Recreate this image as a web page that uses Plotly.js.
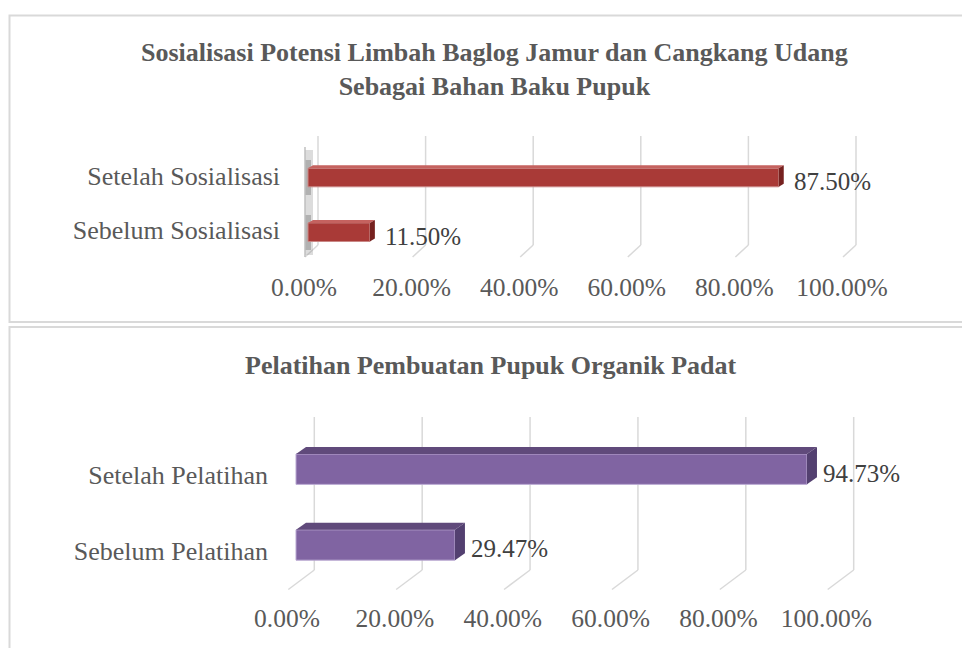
<!DOCTYPE html>
<html>
<head>
<meta charset="utf-8">
<script src="https://cdn.plot.ly/plotly-3.0.1.min.js"></script>
<style>html,body{margin:0;padding:0;background:#fff;}#chart{width:962px;height:648px;}</style>
</head>
<body>
<div id="chart"></div>
<script>
// ---------- data ----------
const title1 = 'Sosialisasi Potensi Limbah Baglog Jamur dan Cangkang Udang<br>Sebagai Bahan Baku Pupuk';
const categories1 = ['Sebelum Sosialisasi', 'Setelah Sosialisasi'];
const values1 = [11.50, 87.50];

const title2 = 'Pelatihan Pembuatan Pupuk Organik Padat';
const categories2 = ['Sebelum Pelatihan', 'Setelah Pelatihan'];
const values2 = [29.47, 94.73];

const tickValues = [0, 20, 40, 60, 80, 100];
const tickLabels = ['0.00%', '20.00%', '40.00%', '60.00%', '80.00%', '100.00%'];

// ---------- layout helpers ----------
const W = 962, H = 648;
const FONT = '"Liberation Serif", "Times New Roman", serif';
const XR = [-5, 105];

function xDomain(p0, p100) {
  const s = (p100 - p0) / 100;
  return [(p0 + XR[0] * s) / W, (p0 + XR[1] * s) / W];
}
function yDomain(cTop, cBot) {
  const s = cBot - cTop;
  return [1 - (cBot + s / 2) / H, 1 - (cTop - s / 2) / H];
}
function pxPerX(dom) { return (dom[1] - dom[0]) * W / (XR[1] - XR[0]); }
function pxPerY(dom) { return (dom[1] - dom[0]) * H / 2; }
const fy = p => 1 - p / H;

const P1 = { xd: xDomain(308, 846), yd: yDomain(177.5, 232.2), bw: 0.34,
  front: '#a93a37', top: '#c5625f', side: '#76211f', line: '#c98886',
  dx: 5, dy: 3, back: 10, frontOff: -3, gTop: 136, gMid: 245, gBot: 257 };
const P2 = { xd: xDomain(296, 835.4), yd: yDomain(469.2, 545), bw: 0.40,
  front: '#8064a2', top: '#604a7b', side: '#534070', line: '#b9a8d2',
  dx: 10, dy: 7, back: 18.3, frontOff: -7.7, gTop: 417, gMid: 570, gBot: 589.5 };

const shapes = [];
const annotations = [];

// panel borders
shapes.push({ type: 'rect', xref: 'paper', yref: 'paper', x0: 9.5 / W, x1: 1.05, y0: fy(15.5), y1: fy(322),
  line: { color: '#d9d9d9', width: 2 }, fillcolor: 'rgba(0,0,0,0)', layer: 'below' });
shapes.push({ type: 'rect', xref: 'paper', yref: 'paper', x0: 9.5 / W, x1: 1.05, y0: fy(327), y1: -0.05,
  line: { color: '#d9d9d9', width: 2 }, fillcolor: 'rgba(0,0,0,0)', layer: 'below' });

function addPanel(P, xref, yref, values) {
  const ux = pxPerX(P.xd), uy = pxPerY(P.yd);
  // 3D-style gridlines (back wall vertical + floor slant)
  tickValues.forEach(v => {
    const xb = v + P.back / ux, xf = v + P.frontOff / ux;
    shapes.push({ type: 'line', xref: xref, yref: 'paper', x0: xb, x1: xb, y0: fy(P.gTop), y1: fy(P.gMid),
      line: { color: '#d9d9d9', width: 1.5 }, layer: 'below' });
    shapes.push({ type: 'line', xref: xref, yref: 'paper', x0: xb, x1: xf, y0: fy(P.gMid), y1: fy(P.gBot),
      line: { color: '#d9d9d9', width: 1.5 }, layer: 'below' });
  });
  // bar top & side faces
  const dxU = P.dx / ux, dyU = P.dy / uy, hw = P.bw / 2;
  values.forEach((v, i) => {
    const yT = i + hw, yB = i - hw;
    shapes.push({ type: 'path', xref: xref, yref: yref, layer: 'above', line: { width: 0 }, fillcolor: P.top,
      path: `M0,${yT} L${dxU},${yT + dyU} L${v + dxU},${yT + dyU} L${v},${yT} Z` });
    shapes.push({ type: 'path', xref: xref, yref: yref, layer: 'above', line: { width: 0 }, fillcolor: P.side,
      path: `M${v},${yT} L${v + dxU},${yT + dyU} L${v + dxU},${yB + dyU} L${v},${yB} Z` });
  });
}
addPanel(P1, 'x', 'y', values1);
addPanel(P2, 'x2', 'y2', values2);

// side wall of panel 1
(function () {
  const ux = pxPerX(P1.xd);
  const xw = -3 / ux;
  shapes.push({ type: 'rect', xref: 'x', yref: 'paper', x0: xw, x1: 5 / ux, y0: fy(150), y1: fy(255),
    fillcolor: '#8c8c8c', opacity: 0.3, line: { width: 0 }, layer: 'below' });
  shapes.push({ type: 'rect', xref: 'x', yref: 'paper', x0: xw, x1: 3 / ux, y0: fy(160), y1: fy(195),
    fillcolor: '#606060', opacity: 0.35, line: { width: 0 }, layer: 'below' });
  shapes.push({ type: 'rect', xref: 'x', yref: 'paper', x0: xw, x1: 3 / ux, y0: fy(215), y1: fy(250),
    fillcolor: '#606060', opacity: 0.35, line: { width: 0 }, layer: 'below' });
  shapes.push({ type: 'line', xref: 'x', yref: 'paper', x0: xw, x1: xw, y0: fy(147), y1: fy(257),
    line: { color: '#bfbfbf', width: 1.5 }, layer: 'below' });
})();

// titles
annotations.push({ xref: 'paper', yref: 'paper', x: 494 / W, y: fy(69), xanchor: 'center', yanchor: 'middle',
  text: '<b>' + title1 + '</b>', showarrow: false, font: { family: FONT, size: 26, color: '#595959' } });
annotations.push({ xref: 'paper', yref: 'paper', x: 491 / W, y: fy(366), xanchor: 'center', yanchor: 'middle',
  text: '<b>' + title2 + '</b>', showarrow: false, font: { family: FONT, size: 26, color: '#595959' } });

// data labels
function addLabels(values, cats, xref, yref, xs, ys) {
  values.forEach((v, i) => {
    annotations.push({ xref: xref, yref: yref, x: v, y: cats[i], xanchor: 'left', yanchor: 'middle',
      xshift: xs, yshift: ys, text: v.toFixed(2) + '%', showarrow: false,
      font: { family: FONT, size: 25, color: '#404040' } });
  });
}
addLabels(values1, categories1, 'x', 'y', 13, -4);
addLabels(values2, categories2, 'x2', 'y2', 14, -4);

const traces = [
  { type: 'bar', orientation: 'h', y: categories1, x: values1, xaxis: 'x', yaxis: 'y', width: P1.bw,
    marker: { color: P1.front, line: { color: P1.line, width: 1 } }, hoverinfo: 'skip', showlegend: false },
  { type: 'bar', orientation: 'h', y: categories2, x: values2, xaxis: 'x2', yaxis: 'y2', width: P2.bw,
    marker: { color: P2.front, line: { color: P2.line, width: 1 } }, hoverinfo: 'skip', showlegend: false }
];

const xCommon = { range: XR, showgrid: false, zeroline: false, showline: false, ticks: '',
  tickmode: 'array', tickvals: tickValues, ticktext: tickLabels, fixedrange: true,
  tickfont: { family: FONT, size: 25.5, color: '#595959' } };
const yCommon = { type: 'category', range: [-0.5, 1.5], showgrid: false, zeroline: false, showline: false,
  ticks: '', fixedrange: true, tickfont: { family: FONT, size: 26, color: '#595959' } };

const layout = {
  width: W, height: H, margin: { l: 0, r: 0, t: 0, b: 0 },
  paper_bgcolor: '#ffffff', plot_bgcolor: 'rgba(0,0,0,0)', showlegend: false,
  font: { family: FONT },
  xaxis: Object.assign({}, xCommon, { domain: P1.xd, anchor: 'y', ticklabelstandoff: 10, ticklabelshift: -4 }),
  yaxis: Object.assign({}, yCommon, { domain: P1.yd, anchor: 'x', categoryarray: categories1, categoryorder: 'array',
    ticklabelstandoff: 0, ticklabelshift: -2 }),
  xaxis2: Object.assign({}, xCommon, { domain: P2.xd, anchor: 'y2', ticklabelstandoff: 18, ticklabelshift: -9 }),
  yaxis2: Object.assign({}, yCommon, { domain: P2.yd, anchor: 'x2', categoryarray: categories2, categoryorder: 'array',
    ticklabelstandoff: 0, ticklabelshift: 6 }),
  shapes: shapes,
  annotations: annotations
};

Plotly.newPlot('chart', traces, layout, { displayModeBar: false, staticPlot: true });
</script>
</body>
</html>
